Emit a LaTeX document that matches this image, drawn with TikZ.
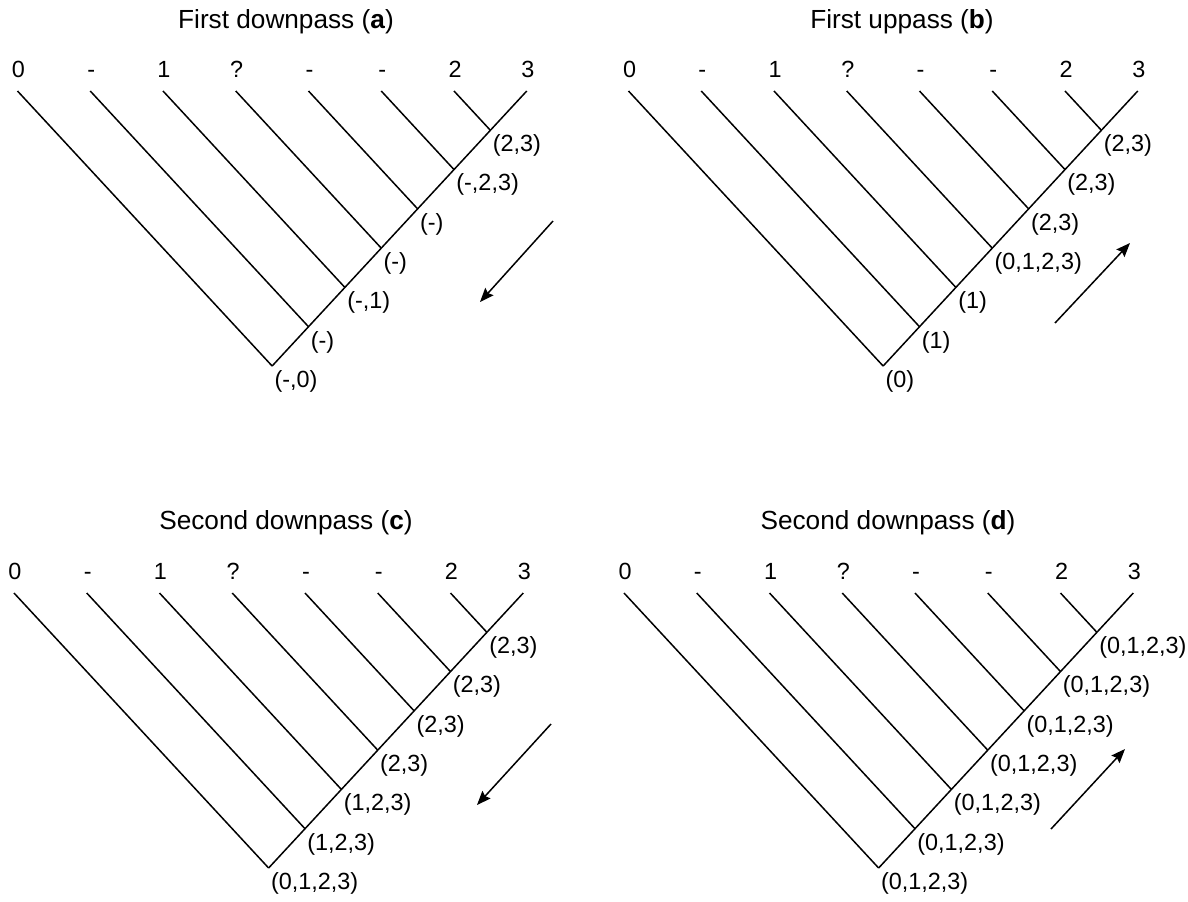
\documentclass[tikz,border=0pt]{standalone}
\usepackage{fontspec}
\setmainfont{Liberation Sans}
\usetikzlibrary{arrows.meta}
\tikzset{
 leaf/.style={font=\fontsize{11.7}{14}\selectfont, inner sep=0pt, anchor=base},
 jlbl/.style={font=\fontsize{11.7}{14}\selectfont, inner sep=0pt, anchor=north west},
 ttl/.style={font=\fontsize{13.1}{16}\selectfont, inner sep=0pt, anchor=base},
 branch/.style={line width=0.75pt},
 passarrow/.style={line width=0.75pt, -{Stealth[length=7pt,width=5.5pt,inset=1pt]}}
}
\newcommand\drawcomb[3]{%
 \begin{scope}[shift={#2}]
  \foreach \i/\lab in {0/0,1/-,2/1,3/?,4/-,5/-,6/2,7/3}{
   \coordinate (#1t\i) at ({17.5+72.75*\i},91);
   \node[leaf] (#1n\i) at ({18.5+72.75*\i},77) {\lab};
  }
  \foreach \i/\lab in {#3}{
   \coordinate (#1j\i) at ({17.5+72.75*(\i+7)/2},{91+39.285*(7-\i)});
   \node[jlbl] (#1l\i) at ({19.5+72.75*(\i+7)/2},{95+39.285*(7-\i)}) {\lab};
  }
  \draw[branch] (#1t7) -- (#1j0);
  \foreach \i in {0,...,6} \draw[branch] (#1t\i) -- (#1j\i);
 \end{scope}}
\begin{document}
\begin{tikzpicture}[x=0.5pt,y=-0.5pt]
\useasboundingbox (0,0) rectangle (1188,901);
% titles
\node[ttl] (ta) at (286,28) {First downpass (\textbf{a})};
\node[ttl] (tb) at (902,28) {First uppass (\textbf{b})};
\node[ttl] (tc) at (286,529) {Second downpass (\textbf{c})};
\node[ttl] (td) at (888,529) {Second downpass (\textbf{d})};
% trees
\drawcomb{a}{(0,0)}{0/{(-,0)},1/{(-)},2/{(-,1)},3/{(-)},4/{(-)},5/{(-,2,3)},6/{(2,3)}}
\drawcomb{b}{(611,0)}{0/{(0)},1/{(1)},2/{(1)},3/{(0,1,2,3)},4/{(2,3)},5/{(2,3)},6/{(2,3)}}
\drawcomb{c}{(-3.5,502)}{0/{(0,1,2,3)},1/{(1,2,3)},2/{(1,2,3)},3/{(2,3)},4/{(2,3)},5/{(2,3)},6/{(2,3)}}
\drawcomb{d}{(606.5,502)}{0/{(0,1,2,3)},1/{(0,1,2,3)},2/{(0,1,2,3)},3/{(0,1,2,3)},4/{(0,1,2,3)},5/{(0,1,2,3)},6/{(0,1,2,3)}}
% pass arrows
\coordinate (aA1) at (553,221); \coordinate (aA2) at (480,302);
\coordinate (bA1) at (1055,323); \coordinate (bA2) at (1130,243);
\coordinate (cA1) at (551,724); \coordinate (cA2) at (477,805);
\coordinate (dA1) at (1051,829); \coordinate (dA2) at (1125,749);
\draw[passarrow] (aA1) -- (aA2);
\draw[passarrow] (bA1) -- (bA2);
\draw[passarrow] (cA1) -- (cA2);
\draw[passarrow] (dA1) -- (dA2);
\end{tikzpicture}
\end{document}
